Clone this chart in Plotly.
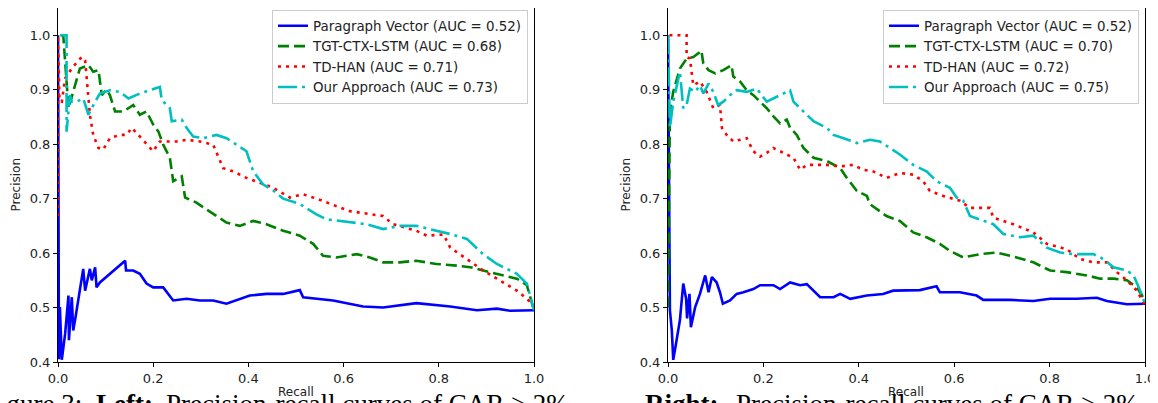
import plotly.graph_objects as go

# ---------------- data ----------------
# Left panel
L_PV_X = [0.0, 0.002, 0.004, 0.008, 0.015, 0.022, 0.023, 0.029, 0.032, 0.037, 0.053, 0.057, 0.067, 0.071, 0.078, 0.081, 0.088, 0.109, 0.123, 0.141, 0.143, 0.158, 0.172, 0.186, 0.200, 0.221, 0.242, 0.270, 0.298, 0.326, 0.354, 0.382, 0.403, 0.438, 0.473, 0.508, 0.515, 0.578, 0.641, 0.683, 0.753, 0.824, 0.880, 0.922, 0.950, 1.0]
L_PV_Y = [1.0, 0.405, 0.501, 0.404, 0.452, 0.522, 0.440, 0.519, 0.458, 0.483, 0.571, 0.531, 0.571, 0.550, 0.574, 0.537, 0.546, 0.562, 0.571, 0.586, 0.568, 0.568, 0.562, 0.544, 0.537, 0.537, 0.513, 0.516, 0.513, 0.513, 0.507, 0.516, 0.522, 0.525, 0.525, 0.532, 0.519, 0.513, 0.502, 0.500, 0.508, 0.502, 0.495, 0.498, 0.494, 0.495]

L_TGT_X = [0.005, 0.011, 0.022, 0.046, 0.064, 0.074, 0.085, 0.092, 0.102, 0.109, 0.120, 0.137, 0.148, 0.158, 0.172, 0.186, 0.200, 0.211, 0.221, 0.235, 0.242, 0.260, 0.267, 0.290, 0.312, 0.354, 0.382, 0.410, 0.438, 0.473, 0.508, 0.536, 0.557, 0.585, 0.628, 0.655, 0.683, 0.718, 0.753, 0.795, 0.838, 0.866, 0.893, 0.935, 0.964, 0.985, 1.0]
L_TGT_Y = [1.0, 1.0, 0.866, 0.939, 0.945, 0.933, 0.936, 0.890, 0.900, 0.890, 0.860, 0.860, 0.866, 0.872, 0.854, 0.860, 0.836, 0.823, 0.799, 0.775, 0.732, 0.741, 0.702, 0.693, 0.680, 0.656, 0.650, 0.659, 0.653, 0.641, 0.632, 0.617, 0.595, 0.592, 0.598, 0.592, 0.583, 0.583, 0.586, 0.580, 0.577, 0.574, 0.568, 0.559, 0.553, 0.541, 0.495]

L_HAN_X = [0.0, 0.0, 0.003, 0.008, 0.015, 0.029, 0.043, 0.050, 0.057, 0.060, 0.067, 0.074, 0.085, 0.095, 0.109, 0.130, 0.144, 0.155, 0.165, 0.176, 0.200, 0.214, 0.249, 0.270, 0.298, 0.326, 0.347, 0.368, 0.396, 0.424, 0.452, 0.487, 0.515, 0.543, 0.613, 0.683, 0.704, 0.753, 0.775, 0.810, 0.824, 0.859, 0.893, 0.922, 0.964, 0.985, 1.0]
L_HAN_Y = [0.668, 1.0, 0.880, 0.878, 0.921, 0.939, 0.954, 0.960, 0.954, 0.921, 0.854, 0.817, 0.793, 0.790, 0.811, 0.817, 0.817, 0.830, 0.820, 0.811, 0.787, 0.805, 0.805, 0.808, 0.805, 0.799, 0.756, 0.750, 0.738, 0.729, 0.720, 0.702, 0.708, 0.700, 0.677, 0.668, 0.653, 0.641, 0.632, 0.634, 0.610, 0.589, 0.568, 0.553, 0.531, 0.516, 0.504]

L_OUR_X = [0.005, 0.018, 0.018, 0.025, 0.029, 0.039, 0.053, 0.064, 0.078, 0.088, 0.109, 0.130, 0.148, 0.172, 0.193, 0.214, 0.218, 0.235, 0.239, 0.260, 0.270, 0.284, 0.305, 0.333, 0.354, 0.375, 0.396, 0.410, 0.431, 0.452, 0.473, 0.508, 0.543, 0.564, 0.613, 0.648, 0.683, 0.718, 0.753, 0.795, 0.824, 0.859, 0.893, 0.922, 0.964, 0.985, 1.0]
L_OUR_Y = [1.0, 1.0, 0.823, 0.890, 0.878, 0.878, 0.884, 0.854, 0.878, 0.893, 0.899, 0.896, 0.884, 0.893, 0.899, 0.905, 0.881, 0.866, 0.842, 0.845, 0.830, 0.814, 0.811, 0.817, 0.811, 0.799, 0.787, 0.750, 0.726, 0.715, 0.700, 0.690, 0.671, 0.662, 0.656, 0.653, 0.644, 0.650, 0.650, 0.641, 0.635, 0.626, 0.598, 0.580, 0.562, 0.544, 0.495]

# Right panel
R_PV_X = [0.0, 0.002, 0.004, 0.008, 0.011, 0.018, 0.025, 0.032, 0.038, 0.040, 0.045, 0.048, 0.057, 0.067, 0.078, 0.085, 0.092, 0.102, 0.109, 0.115, 0.130, 0.144, 0.158, 0.179, 0.193, 0.221, 0.235, 0.256, 0.277, 0.291, 0.305, 0.319, 0.347, 0.361, 0.382, 0.417, 0.451, 0.472, 0.528, 0.563, 0.570, 0.612, 0.647, 0.661, 0.717, 0.766, 0.801, 0.857, 0.899, 0.920, 0.962, 1.0]
R_PV_Y = [1.0, 0.600, 0.495, 0.458, 0.404, 0.440, 0.477, 0.544, 0.516, 0.480, 0.525, 0.464, 0.501, 0.525, 0.559, 0.528, 0.556, 0.546, 0.528, 0.507, 0.513, 0.525, 0.528, 0.534, 0.541, 0.541, 0.534, 0.546, 0.541, 0.543, 0.531, 0.519, 0.519, 0.525, 0.516, 0.522, 0.525, 0.531, 0.532, 0.539, 0.528, 0.528, 0.522, 0.514, 0.514, 0.512, 0.516, 0.516, 0.518, 0.512, 0.506, 0.507]

R_TGT_X = [0.0, 0.002, 0.004, 0.011, 0.025, 0.039, 0.053, 0.067, 0.070, 0.074, 0.085, 0.099, 0.116, 0.133, 0.137, 0.151, 0.165, 0.179, 0.193, 0.207, 0.221, 0.235, 0.249, 0.256, 0.270, 0.284, 0.305, 0.333, 0.361, 0.375, 0.396, 0.417, 0.423, 0.458, 0.486, 0.514, 0.542, 0.570, 0.591, 0.619, 0.654, 0.689, 0.731, 0.766, 0.801, 0.836, 0.878, 0.906, 0.934, 0.962, 0.983, 1.0]
R_TGT_Y = [0.500, 0.750, 0.860, 0.896, 0.939, 0.957, 0.960, 0.969, 0.972, 0.948, 0.936, 0.930, 0.936, 0.945, 0.924, 0.915, 0.899, 0.890, 0.878, 0.866, 0.851, 0.838, 0.845, 0.830, 0.817, 0.793, 0.775, 0.769, 0.756, 0.738, 0.714, 0.705, 0.690, 0.668, 0.659, 0.638, 0.629, 0.617, 0.604, 0.592, 0.598, 0.601, 0.592, 0.583, 0.568, 0.565, 0.559, 0.553, 0.553, 0.550, 0.537, 0.513]

R_HAN_X = [0.003, 0.039, 0.039, 0.046, 0.053, 0.067, 0.081, 0.095, 0.109, 0.113, 0.123, 0.137, 0.165, 0.179, 0.193, 0.207, 0.221, 0.242, 0.263, 0.277, 0.291, 0.333, 0.361, 0.388, 0.409, 0.430, 0.458, 0.486, 0.514, 0.535, 0.549, 0.577, 0.612, 0.633, 0.675, 0.682, 0.724, 0.766, 0.794, 0.836, 0.864, 0.892, 0.920, 0.941, 0.962, 0.983, 1.0]
R_HAN_Y = [1.0, 1.0, 0.960, 0.957, 0.908, 0.915, 0.896, 0.866, 0.872, 0.830, 0.817, 0.805, 0.811, 0.787, 0.777, 0.784, 0.793, 0.784, 0.775, 0.753, 0.762, 0.762, 0.759, 0.762, 0.753, 0.750, 0.738, 0.747, 0.744, 0.732, 0.714, 0.705, 0.696, 0.683, 0.683, 0.665, 0.653, 0.638, 0.617, 0.607, 0.589, 0.583, 0.583, 0.565, 0.550, 0.531, 0.504]

R_OUR_X = [0.0, 0.004, 0.011, 0.018, 0.025, 0.032, 0.039, 0.046, 0.057, 0.067, 0.074, 0.085, 0.095, 0.105, 0.116, 0.130, 0.144, 0.165, 0.186, 0.207, 0.235, 0.256, 0.263, 0.277, 0.305, 0.333, 0.347, 0.368, 0.396, 0.423, 0.444, 0.465, 0.486, 0.514, 0.542, 0.563, 0.591, 0.605, 0.619, 0.633, 0.654, 0.682, 0.703, 0.738, 0.766, 0.794, 0.822, 0.850, 0.892, 0.913, 0.934, 0.962, 0.976, 0.990, 1.0]
R_OUR_Y = [1.0, 0.830, 0.878, 0.908, 0.933, 0.866, 0.872, 0.902, 0.896, 0.908, 0.893, 0.911, 0.896, 0.872, 0.878, 0.890, 0.899, 0.896, 0.902, 0.878, 0.890, 0.899, 0.878, 0.866, 0.842, 0.830, 0.817, 0.811, 0.802, 0.808, 0.805, 0.793, 0.781, 0.762, 0.750, 0.732, 0.720, 0.702, 0.696, 0.668, 0.662, 0.653, 0.635, 0.629, 0.632, 0.610, 0.601, 0.598, 0.598, 0.589, 0.574, 0.568, 0.559, 0.531, 0.507]

LEFT_NAMES = ["Paragraph Vector (AUC = 0.52)", "TGT-CTX-LSTM (AUC = 0.68)",
              "TD-HAN (AUC = 0.71)", "Our Approach (AUC = 0.73)"]
RIGHT_NAMES = ["Paragraph Vector (AUC = 0.52)", "TGT-CTX-LSTM (AUC = 0.70)",
               "TD-HAN (AUC = 0.72)", "Our Approach (AUC = 0.75)"]
X_TICKS = [0.0, 0.2, 0.4, 0.6, 0.8, 1.0]
Y_TICKS = [0.4, 0.5, 0.6, 0.7, 0.8, 0.9, 1.0]

# ---------------- styles ----------------
W, H = 1158, 403
OFF = 8  # page offset of the figure (default body margin)
LW = 2.6
STYLES = [
    dict(color="#0000FF", width=LW, dash="solid"),
    dict(color="#008000", width=LW, dash="11px,5px"),
    dict(color="#FF0000", width=LW, dash="3px,5px"),
    dict(color="#00BFBF", width=LW, dash="19px,5px,3px,5px"),
]
FONT = "DejaVu Sans"
FS = 13

fig = go.Figure()

left = [(L_PV_X, L_PV_Y), (L_TGT_X, L_TGT_Y), (L_HAN_X, L_HAN_Y), (L_OUR_X, L_OUR_Y)]
right = [(R_PV_X, R_PV_Y), (R_TGT_X, R_TGT_Y), (R_HAN_X, R_HAN_Y), (R_OUR_X, R_OUR_Y)]

for (xs, ys), name, st in zip(left, LEFT_NAMES, STYLES):
    fig.add_trace(go.Scatter(x=xs, y=ys, mode="lines", name=name, line=st,
                             xaxis="x", yaxis="y", legend="legend"))
for (xs, ys), name, st in zip(right, RIGHT_NAMES, STYLES):
    fig.add_trace(go.Scatter(x=xs, y=ys, mode="lines", name=name, line=st,
                             xaxis="x2", yaxis="y2", legend="legend2"))

def px_x(p):
    return (p - OFF) / W

def px_y(p):
    return min(1.0, 1 - (p - OFF) / H)

ax_common = dict(showline=True, linecolor="black", linewidth=1, mirror=True,
                 showgrid=False, zeroline=False, ticks="outside", ticklen=4,
                 tickwidth=1, tickcolor="black", automargin=False,
                 tickfont=dict(family=FONT, size=FS, color="#222222"))

YDOM = [px_y(362), px_y(7)]
LEG = dict(xanchor="right", yanchor="top",
           bgcolor="rgba(255,255,255,0.85)", bordercolor="#cccccc",
           borderwidth=1, itemwidth=30,
           font=dict(family=FONT, size=13.4, color="#222222"))
fig.update_layout(
    template="none",
    width=W, height=H,
    margin=dict(l=0, r=0, t=0, b=0, pad=0, autoexpand=False),
    paper_bgcolor="white", plot_bgcolor="white",
    xaxis=dict(domain=[px_x(58), px_x(534)], range=[0, 1], tickvals=X_TICKS,
               tickformat=".1f", anchor="y", **ax_common),
    yaxis=dict(domain=YDOM, range=[0.4, 1.05], tickvals=Y_TICKS,
               tickformat=".1f", anchor="x", **ax_common),
    xaxis2=dict(domain=[px_x(668), px_x(1145)], range=[0, 1], tickvals=X_TICKS,
                tickformat=".1f", anchor="y2", **ax_common),
    yaxis2=dict(domain=YDOM, range=[0.4, 1.05], tickvals=Y_TICKS,
                tickformat=".1f", anchor="x2", **ax_common),
    legend=dict(x=px_x(528), y=px_y(9.5), **LEG),
    legend2=dict(x=px_x(1139), y=px_y(9.5), **LEG),
    showlegend=True,
)

# Axis titles
for cx in (296, 906):
    fig.add_annotation(text="Recall", x=px_x(cx), y=px_y(392), xref="paper", yref="paper",
                       showarrow=False, xanchor="center", yanchor="middle",
                       font=dict(family=FONT, size=12, color="#222222"))
for cx in (15, 625):
    fig.add_annotation(text="Precision", x=px_x(cx), y=px_y(184.5), xref="paper", yref="paper",
                       showarrow=False, xanchor="center", yanchor="middle", textangle=-90,
                       font=dict(family=FONT, size=12, color="#222222"))

# Caption (cropped at the bottom of the picture)
CAPTION = [
    ("Figure 3:", 84, "right"),
    ("<b>Left:</b>", 94, "left"),
    ("Precision-recall curves of CAR > 2%.", 164, "left"),
    ("<b>Right:</b>", 643, "left"),
    ("Precision-recall curves of CAR > 2%.", 734, "left"),
]
for txt, xp, anc in CAPTION:
    fig.add_annotation(text=txt, x=px_x(xp), y=px_y(404), xref="paper", yref="paper",
                       showarrow=False, xanchor=anc, yanchor="middle",
                       font=dict(family="Liberation Serif", size=27, color="black"))

fig.write_html("out.html")
